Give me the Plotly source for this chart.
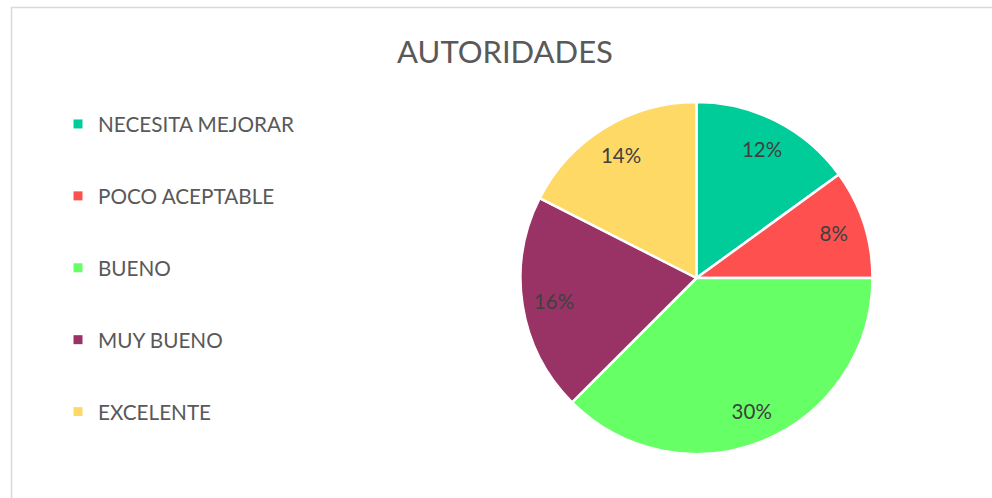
import plotly.graph_objects as go

categories = ["NECESITA MEJORAR", "POCO ACEPTABLE", "BUENO", "MUY BUENO", "EXCELENTE"]
values = [0.12, 0.08, 0.30, 0.16, 0.14]
colors = ["#00CC99", "#FF5050", "#66FF66", "#993366", "#FFD966"]
title_text = "AUTORIDADES"

W, H = 992, 498
FONT = "Lato, Calibri, Carlito, sans-serif"

fig = go.Figure()

cx, cy, r = 696.5, 278, 176
dom = dict(x=[(cx - r) / W, (cx + r) / W], y=[(H - cy - r) / H, (H - cy + r) / H])

# filled pie
fig.add_trace(go.Pie(
    labels=categories,
    values=values,
    marker=dict(colors=colors, line=dict(color="white", width=2.5)),
    sort=False,
    direction="clockwise",
    rotation=0,
    textinfo="none",
    showlegend=False,
    hoverinfo="label+percent",
    domain=dom,
))

# transparent ring carrying the data labels (places them near the outer edge)
fig.add_trace(go.Pie(
    labels=categories,
    values=values,
    hole=0.64,
    marker=dict(colors=["rgba(0,0,0,0)"] * len(values), line=dict(width=0)),
    sort=False,
    direction="clockwise",
    rotation=0,
    texttemplate="%{value:.0%}",
    textposition="inside",
    insidetextorientation="horizontal",
    textfont=dict(family=FONT, size=20.5, color="#404040"),
    showlegend=False,
    hoverinfo="skip",
    domain=dom,
))

# legend entries
for i, (c, col) in enumerate(zip(categories, colors)):
    fig.add_trace(go.Scatter(
        x=[None], y=[None], mode="markers", name=c,
        marker=dict(symbol="square", size=9, color=col),
        legendgroup=f"g{i}", showlegend=True,
    ))

fig.update_layout(
    width=W, height=H,
    margin=dict(l=0, r=0, t=0, b=0),
    paper_bgcolor="white",
    plot_bgcolor="white",
    xaxis=dict(visible=False),
    yaxis=dict(visible=False),
    title=dict(text=title_text, x=505 / W, xanchor="center", y=1 - 52 / H, yanchor="middle",
               font=dict(family=FONT, size=31, color="#595959")),
    legend=dict(
        x=58 / W, xanchor="left", y=1 - 104 / H, yanchor="top",
        font=dict(family=FONT, size=20.7, color="#595959"),
        tracegroupgap=42,
        bgcolor="rgba(0,0,0,0)",
    ),
    shapes=[dict(type="rect", xref="paper", yref="paper",
                 x0=11.5 / W, x1=1.05, y0=-0.05, y1=1 - 7.5 / H,
                 line=dict(color="#D9D9D9", width=1.5), layer="below")],
)

fig.write_html("out.html", config={"displayModeBar": False},
               post_script="document.body.style.margin='0';")
